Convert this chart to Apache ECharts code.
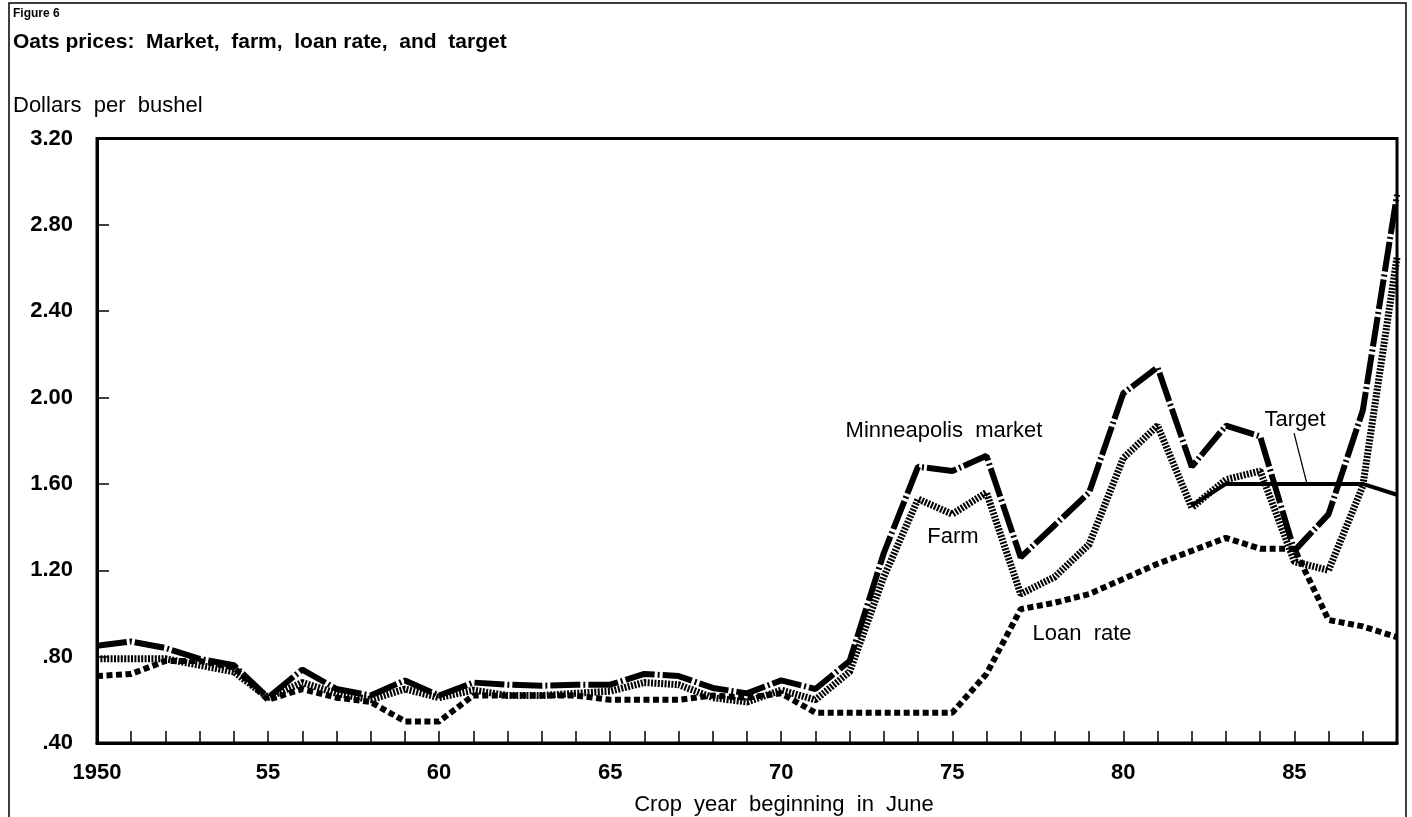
<!DOCTYPE html>
<html>
<head>
<meta charset="utf-8">
<script src="https://cdn.jsdelivr.net/npm/echarts@6/dist/echarts.min.js"></script>
<style>
  html, body { margin: 0; padding: 0; background: #fff; }
  #chart { width: 1412px; height: 817px; }
</style>
</head>
<body>
<div id="chart"></div>
<script>
// crop years 1950..1988
var years = [1950, 1951, 1952, 1953, 1954, 1955, 1956, 1957, 1958, 1959,
             1960, 1961, 1962, 1963, 1964, 1965, 1966, 1967, 1968, 1969,
             1970, 1971, 1972, 1973, 1974, 1975, 1976, 1977, 1978, 1979,
             1980, 1981, 1982, 1983, 1984, 1985, 1986, 1987, 1988];

// dollars per bushel
var marketPrice = [0.85, 0.87, 0.84, 0.79, 0.76, 0.61, 0.74, 0.65, 0.62, 0.69,
                   0.62, 0.68, 0.67, 0.665, 0.67, 0.67, 0.72, 0.71, 0.655, 0.63,
                   0.69, 0.65, 0.78, 1.28, 1.68, 1.66, 1.73, 1.26, 1.41, 1.56,
                   2.02, 2.14, 1.68, 1.87, 1.82, 1.29, 1.46, 1.94, 2.94];
var farmPrice = [0.79, 0.79, 0.79, 0.76, 0.73, 0.61, 0.68, 0.63, 0.60, 0.65,
                 0.61, 0.645, 0.62, 0.62, 0.63, 0.64, 0.68, 0.67, 0.61, 0.59,
                 0.645, 0.60, 0.73, 1.17, 1.53, 1.46, 1.56, 1.09, 1.17, 1.32,
                 1.72, 1.87, 1.49, 1.62, 1.66, 1.24, 1.20, 1.59, 2.65];
var loanRate = [0.71, 0.72, 0.78, 0.78, 0.75, 0.60, 0.65, 0.61, 0.59, 0.50,
                0.50, 0.62, 0.62, 0.62, 0.62, 0.60, 0.60, 0.60, 0.62, 0.61,
                0.63, 0.54, 0.54, 0.54, 0.54, 0.54, 0.72, 1.02, 1.05, 1.09,
                1.16, 1.23, 1.29, 1.35, 1.30, 1.30, 0.97, 0.94, 0.89];
var targetYears = [1982, 1983, 1984, 1985, 1986, 1987, 1988];
var targetPrice = [1.50, 1.60, 1.60, 1.60, 1.60, 1.60, 1.55];

var labelYears = [1950, 1955, 1960, 1965, 1970, 1975, 1980, 1985];

var FONT = '"Liberation Sans", Arial, sans-serif';

function pairs(xs, ys) {
  var out = [];
  for (var i = 0; i < xs.length; i++) out.push([xs[i], ys[i]]);
  return out;
}

var chart = echarts.init(document.getElementById('chart'));
chart.setOption({
  animation: false,
  backgroundColor: '#fff',
  textStyle: { fontFamily: FONT, color: '#000' },
  grid: {
    left: 97, right: 15, top: 138.5, bottom: 74,
    show: true, borderColor: '#000', borderWidth: 3
  },
  xAxis: {
    type: 'value',
    min: 1950, max: 1988, interval: 1,
    axisLine: { lineStyle: { color: '#000', width: 3 } },
    axisTick: { inside: true, length: 12, lineStyle: { color: '#000', width: 1.5 } },
    splitLine: { show: false },
    axisLabel: {
      margin: 19, fontSize: 22, fontWeight: 'bold', color: '#000', fontFamily: FONT,
      formatter: function (v) {
        if (labelYears.indexOf(v) < 0) return '';
        return v === 1950 ? '1950' : String(v).slice(2);
      }
    }
  },
  yAxis: {
    type: 'value',
    min: 0.4, max: 3.2, interval: 0.4,
    axisLine: { lineStyle: { color: '#000', width: 3 } },
    axisTick: { inside: true, length: 12, lineStyle: { color: '#000', width: 1.5 } },
    splitLine: { show: false },
    axisLabel: {
      margin: 24, fontSize: 22, fontWeight: 'bold', color: '#000', fontFamily: FONT,
      formatter: function (v) {
        var s = v.toFixed(2);
        return v < 1 ? s.slice(1) : s;
      }
    }
  },
  series: [
    {
      name: 'Loan rate', type: 'line', showSymbol: false,
      data: pairs(years, loanRate),
      lineStyle: { color: '#000', width: 6, type: [6, 3.5], cap: 'butt' }
    },
    {
      name: 'Target', type: 'line', showSymbol: false,
      data: pairs(targetYears, targetPrice),
      lineStyle: { color: '#000', width: 4, type: 'solid' }
    },
    {
      name: 'Farm', type: 'line', showSymbol: false,
      data: pairs(years, farmPrice),
      lineStyle: { color: '#000', width: 7, type: [2, 1.4], cap: 'butt' }
    },
    {
      name: 'Minneapolis market', type: 'line', showSymbol: false,
      data: pairs(years, marketPrice),
      lineStyle: { color: '#000', width: 6, type: [30, 3, 2, 3], cap: 'butt' }
    }
  ],
  graphic: [
    // outer figure frame
    { type: 'polyline', silent: true,
      shape: { points: [[9, 817], [9, 3], [1406, 3], [1406, 817]] },
      style: { stroke: '#000', lineWidth: 1.5, fill: null } },
    { type: 'text', left: 13, top: 8,
      style: { text: 'Figure 6', font: 'bold 12px ' + FONT, fill: '#000' } },
    { type: 'text', left: 13, top: 32,
      style: { text: 'Oats prices:  Market,  farm,  loan rate,  and  target', font: 'bold 21px ' + FONT, fill: '#000' } },
    { type: 'text', left: 13, top: 95,
      style: { text: 'Dollars  per  bushel', font: '22px ' + FONT, fill: '#000' } },
    { type: 'text', x: 784, y: 805,
      style: { text: 'Crop  year  beginning  in  June', font: '22px ' + FONT, fill: '#000', align: 'center', verticalAlign: 'middle' } },
    // series annotations
    { type: 'text', x: 944, y: 431,
      style: { text: 'Minneapolis  market', font: '22px ' + FONT, fill: '#000', align: 'center', verticalAlign: 'middle' } },
    { type: 'text', x: 953, y: 537,
      style: { text: 'Farm', font: '22px ' + FONT, fill: '#000', align: 'center', verticalAlign: 'middle' } },
    { type: 'text', x: 1082, y: 634,
      style: { text: 'Loan  rate', font: '22px ' + FONT, fill: '#000', align: 'center', verticalAlign: 'middle' } },
    { type: 'text', x: 1295, y: 420,
      style: { text: 'Target', font: '22px ' + FONT, fill: '#000', align: 'center', verticalAlign: 'middle' } },
    { type: 'line', silent: true,
      shape: { x1: 1294, y1: 433, x2: 1307, y2: 484 },
      style: { stroke: '#000', lineWidth: 1.2 } }
  ]
});
</script>
</body>
</html>
